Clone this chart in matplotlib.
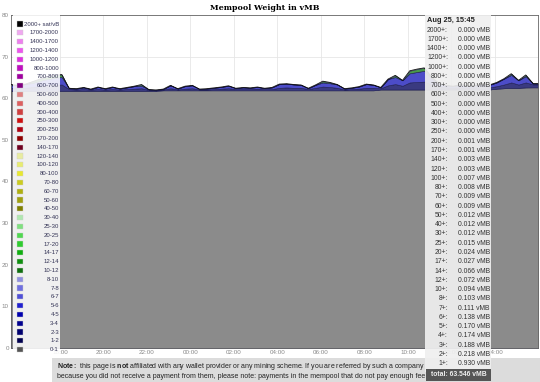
import matplotlib
matplotlib.use("Agg")
import matplotlib.pyplot as plt
from matplotlib.patches import Rectangle

plt.rcParams['font.family'] = ['Liberation Sans', 'DejaVu Sans']
plt.rcParams['mathtext.fontset'] = 'custom'
plt.rcParams['mathtext.rm'] = 'Liberation Sans'
plt.rcParams['mathtext.bf'] = 'Liberation Sans:bold'

# fee buckets shown in the legend (top to bottom)
fee_labels = ["2000+ sat/vB", "1700-2000", "1400-1700", "1200-1400", "1000-1200",
              "800-1000", "700-800", "600-700", "500-600", "400-500", "300-400",
              "250-300", "200-250", "170-200", "140-170", "120-140", "100-120",
              "80-100", "70-80", "60-70", "50-60", "40-50", "30-40", "25-30",
              "20-25", "17-20", "14-17", "12-14", "10-12", "8-10", "7-8", "6-7",
              "5-6", "4-5", "3-4", "2-3", "1-2", "0-1"]
fee_colors = ["#000000", "#f0a8f0", "#ee80ee", "#ee55ee", "#e030e0", "#c010c0",
              "#a000a0", "#800080", "#e08080", "#dd6060", "#d04040", "#d01010",
              "#b00010", "#900000", "#700020", "#e8eca0", "#e8ec70", "#e8e830",
              "#cccc20", "#b0b010", "#a0a010", "#808000", "#b0e8b0", "#80e080",
              "#50d850", "#30cc30", "#10b010", "#109010", "#107010", "#9090e0",
              "#7070e0", "#5050d8", "#2020d0", "#0000b0", "#000090", "#000070",
              "#000050", "#555555"]

# samples every 20 minutes, starting Aug 24 15:45
step_h = 1.0 / 3.0
layer_0_1 = [61.8, 61.8, 61.8, 61.8, 61.8, 61.8, 61.8, 61.8, 61.8, 61.8,
             61.8, 61.8, 61.8, 61.8, 61.8, 61.8, 61.8, 61.8, 61.8, 61.8,
             61.8, 61.9, 61.9, 61.9, 61.9, 61.9, 61.9, 61.9, 61.9, 61.9,
             61.9, 61.9, 61.9, 61.9, 61.9, 61.9, 61.9, 61.9, 61.9, 61.9,
             61.9, 61.9, 61.9, 61.9, 61.9, 61.9, 61.9, 61.9, 61.9, 61.9,
             61.9, 62.1, 62.1, 62.1, 62.1, 62.1, 62.1, 62.1, 62.1, 62.1,
             62.1, 62.1, 62.1, 62.1, 62.1, 62.1, 62.1, 62.3, 62.4, 62.5,
             62.5, 62.6, 62.616, 62.616]
layer_1_2 = [0.7, 0.6, 0.7, 0.9, 1.1, 1.3, 1.4, 1.5, 0.4, 0.3,
             0.4, 0.3, 0.4, 0.3, 0.4, 0.3, 0.4, 0.5, 0.6, 0.2,
             0.1, 0.2, 0.5, 0.2, 0.4, 0.5, 0.2, 0.2, 0.3, 0.4,
             0.5, 0.3, 0.3, 0.3, 0.4, 0.3, 0.3, 0.6, 0.7, 0.6,
             0.6, 0.3, 0.6, 0.9, 0.8, 0.6, 0.2, 0.3, 0.4, 0.6,
             0.6, 0.3, 1.0, 1.3, 0.9, 1.7, 1.8, 1.9, 1.2, 0.7,
             0.5, 0.4, 0.5, 0.4, 0.5, 0.6, 0.5, 0.6, 0.9, 1.3,
             0.8, 1.2, 0.712, 0.712]
layer_5_6 = [0.6, 0.7, 0.9, 1.0, 1.3, 1.5, 1.7, 1.8, 0.2, 0.2,
             0.4, 0.1, 0.5, 0.2, 0.5, 0.2, 0.4, 0.6, 0.6, 0.1,
             0.1, 0.1, 0.7, 0.2, 0.6, 0.7, 0.1, 0.2, 0.3, 0.4,
             0.6, 0.2, 0.4, 0.3, 0.4, 0.2, 0.4, 0.9, 0.9, 0.8,
             0.7, 0.2, 0.7, 1.0, 0.9, 0.8, 0.2, 0.3, 0.5, 0.9,
             0.7, 0.2, 1.5, 1.7, 1.3, 2.2, 2.4, 2.6, 1.5, 0.8,
             0.5, 0.4, 0.7, 0.5, 0.5, 0.8, 0.6, 0.9, 1.4, 1.8,
             1.0, 1.5, 0.17, 0.17]
layer_12_14 = [0.2, 0.0, 0.0, 0.3, 0.4, 0.5, 0.6, 0.6, 0.0, 0.0,
               0.0, 0.0, 0.0, 0.0, 0.0, 0.0, 0.0, 0.0, 0.3, 0.0,
               0.0, 0.0, 0.0, 0.0, 0.0, 0.0, 0.0, 0.0, 0.0, 0.0,
               0.0, 0.0, 0.0, 0.0, 0.0, 0.0, 0.0, 0.0, 0.0, 0.0,
               0.0, 0.0, 0.0, 0.3, 0.2, 0.0, 0.0, 0.0, 0.0, 0.0,
               0.0, 0.0, 0.0, 0.4, 0.0, 0.6, 0.7, 0.7, 0.3, 0.0,
               0.0, 0.0, 0.0, 0.0, 0.0, 0.0, 0.0, 0.0, 0.0, 0.3,
               0.0, 0.3, 0.05, 0.05]

tick_pos = [2.25, 4.25, 6.25, 8.25, 10.25, 12.25, 14.25, 16.25, 18.25, 20.25, 22.25]
tick_labels = ["18:00", "20:00", "22:00", "00:00", "02:00", "04:00", "06:00",
               "08:00", "10:00", "12:00", "14:00"]

tip_title = "Aug 25, 15:45"
tip_labels = ["2000+", "1700+", "1400+", "1200+", "1000+", "800+", "700+", "600+",
              "500+", "400+", "300+", "250+", "200+", "170+", "140+", "120+", "100+",
              "80+", "70+", "60+", "50+", "40+", "30+", "25+", "20+", "17+", "14+",
              "12+", "10+", "8+", "7+", "6+", "5+", "4+", "3+", "2+", "1+"]
tip_values = ["0.000", "0.000", "0.000", "0.000", "0.000", "0.000", "0.000", "0.000",
              "0.000", "0.000", "0.000", "0.000", "0.001", "0.001", "0.003", "0.003",
              "0.007", "0.008", "0.009", "0.009", "0.012", "0.012", "0.012", "0.015",
              "0.024", "0.027", "0.066", "0.072", "0.094", "0.103", "0.111", "0.138",
              "0.170", "0.174", "0.188", "0.218", "0.930"]
tip_total = "63.546"

note_1 = (r"$\mathbf{Note:}$ this page is $\mathbf{not}$ affiliated with any wallet provider "
          "or any mining scheme. If you are referred by such a company")
note_2 = ("because you did not receive a payment from them, please note: payments in the "
          "mempool that do not pay enough fee")

W, H = 540, 382


def fx(x):
    return x / W


def fy(y):
    return 1 - y / H


def main():
    hours = [i * step_h for i in range(len(layer_0_1))]
    total = [a + b + c + d for a, b, c, d in zip(layer_0_1, layer_1_2, layer_5_6, layer_12_14)]

    fig = plt.figure(figsize=(5.4, 3.82), dpi=100)
    ax = fig.add_axes([fx(11), fy(348), fx(527), 333 / H])

    # colours as they look after flot's fill opacity on white
    ax.stackplot(hours, layer_0_1, layer_1_2, layer_5_6, layer_12_14,
                 colors=["#8b8b8b", "#3a3a80", "#4c4cc8", "#4a9a4a"],
                 lw=0.4, edgecolor="#1a1a50", zorder=2)
    ax.plot(hours, total, color="#111111", lw=0.6, zorder=3)

    ax.set_xlim(0, 527 / 21.75)
    ax.set_ylim(0, 80)
    ax.set_xticks(tick_pos)
    ax.set_xticklabels(tick_labels)
    ax.set_yticks([0, 10, 20, 30, 40, 50, 60, 70, 80])
    ax.tick_params(length=0, labelsize=4.5, colors="#888888", pad=1.5)
    ax.grid(True, color="#e6e6e6", lw=0.6, zorder=0)
    ax.set_axisbelow(True)
    for s in ax.spines.values():
        s.set_color("#666666")
        s.set_linewidth(0.6)

    fig.text(0.49, fy(8), "Mempool Weight in vMB", family="DejaVu Serif",
             weight="bold", fontsize=5.7, ha="center", va="center")

    # legend box
    fig.patches.append(Rectangle((fx(13), fy(356)), fx(47), 341 / H, transform=fig.transFigure,
                                 facecolor="white", alpha=0.88, edgecolor="none", zorder=5))
    for i, (lab, col) in enumerate(zip(fee_labels, fee_colors)):
        y = 24 + i * 8.8
        fig.patches.append(Rectangle((fx(16.5), fy(y + 2.6)), fx(6), 5.2 / H,
                                     transform=fig.transFigure, facecolor=col,
                                     edgecolor="#cccccc", lw=0.3, zorder=6))
        fig.text(fx(59), fy(y), lab, fontsize=4.3, color="#333355",
                 ha="right", va="center", zorder=7)

    # note box below chart
    fig.patches.append(Rectangle((fx(52), 0), fx(500), 24 / H, transform=fig.transFigure,
                                 facecolor="#dcdcdc", edgecolor="none", zorder=4))
    fig.text(fx(57), fy(366), note_1, fontsize=5.05, color="#222222", va="center", zorder=4.5)
    fig.text(fx(57), fy(376.5), note_2, fontsize=5.05, color="#222222", va="center", zorder=4.5)

    # hover tooltip
    fig.patches.append(Rectangle((fx(425), fy(372)), fx(66), 357 / H, transform=fig.transFigure,
                                 facecolor="#efefef", alpha=0.93, edgecolor="none", zorder=8))
    fig.text(fx(427), fy(21), tip_title, fontsize=5.3, weight="bold", color="#222222",
             va="center", zorder=9)
    for i, (lab, val) in enumerate(zip(tip_labels, tip_values)):
        y = 30 + i * 9.27
        fig.text(fx(448), fy(y), lab + ":", fontsize=4.9, color="#333333",
                 ha="right", va="center", zorder=9)
        fig.text(fx(490), fy(y), val + " vMB", fontsize=4.9, color="#333333",
                 ha="right", va="center", zorder=9)
    fig.patches.append(Rectangle((fx(426), fy(381)), fx(65), 12 / H, transform=fig.transFigure,
                                 facecolor="#555555", edgecolor="none", zorder=10))
    fig.text(fx(458.5), fy(375), "total: " + tip_total + " vMB", fontsize=4.9,
             color="#eeeeee", weight="bold", ha="center", va="center", zorder=11)

    fig.savefig("out.png", dpi=100)


if __name__ == "__main__":
    main()
